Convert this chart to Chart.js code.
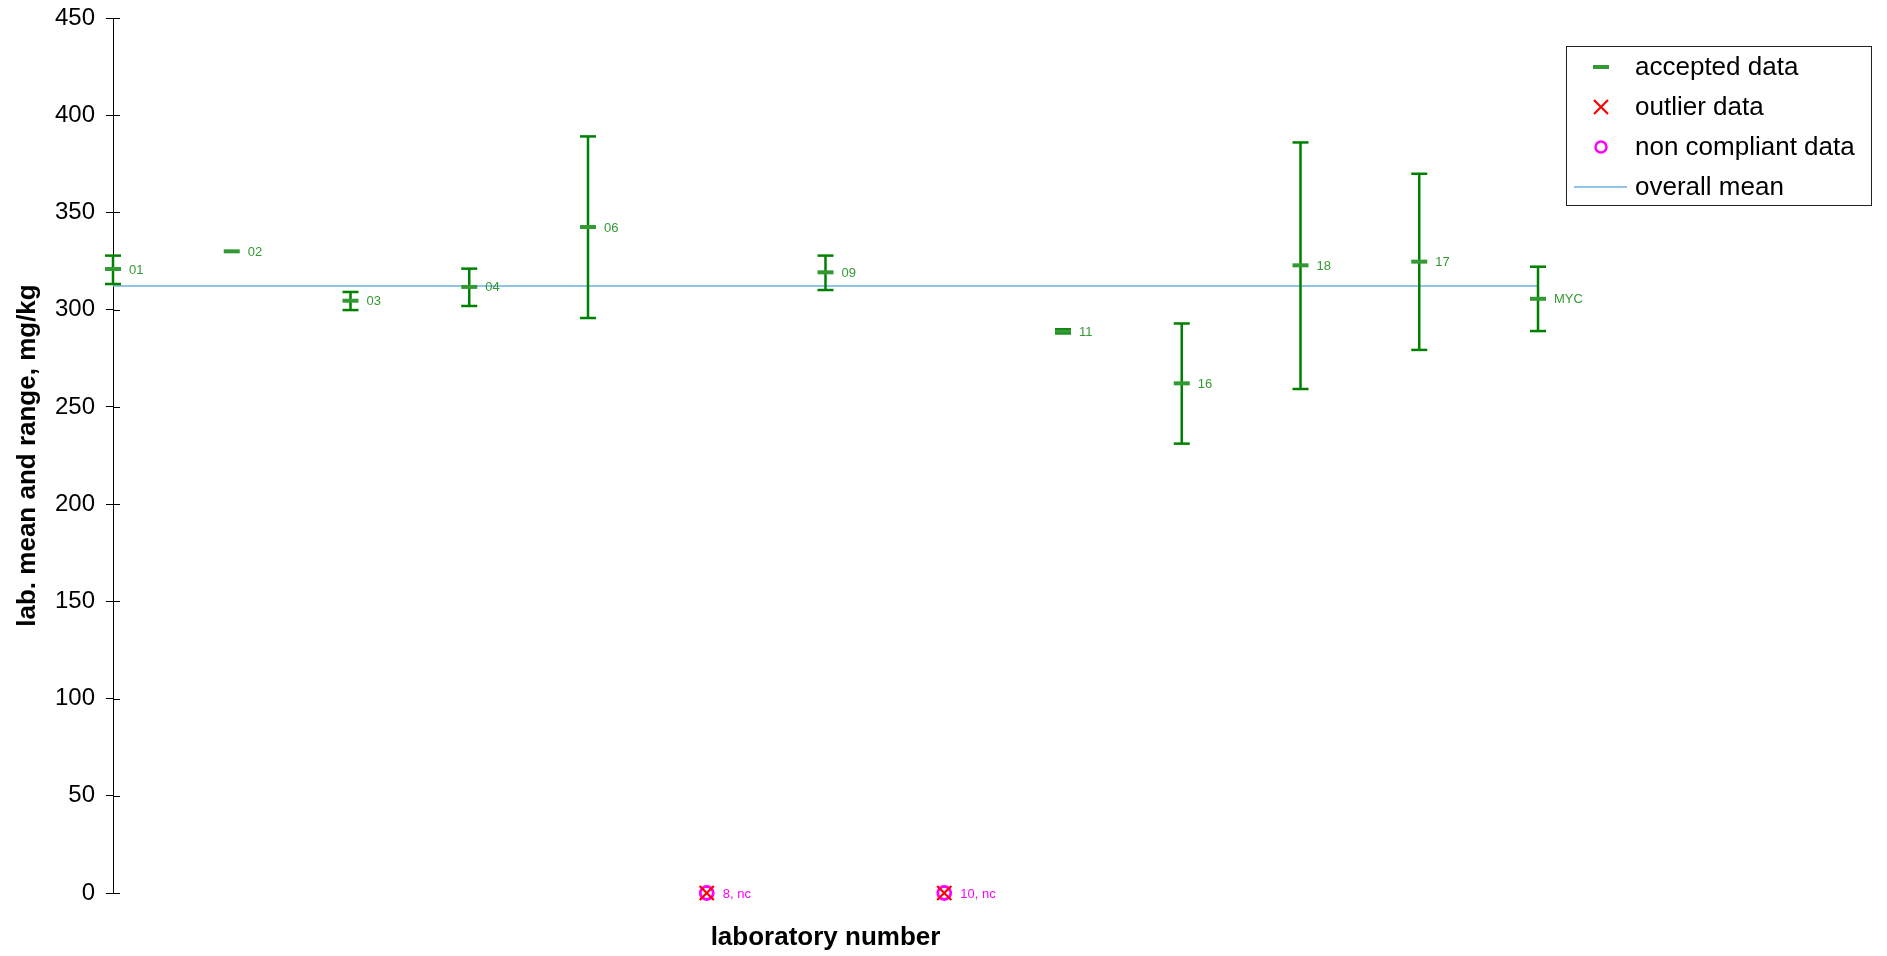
<!DOCTYPE html>
<html>
<head>
<meta charset="utf-8">
<script src="https://cdn.jsdelivr.net/npm/chart.js@4.4.1/dist/chart.umd.min.js"></script>
<style>
  html, body { margin: 0; padding: 0; background: #fff; }
  #wrap { width: 1887px; height: 956px; }
</style>
</head>
<body>
<div id="wrap"><canvas id="labChart"></canvas></div>
<script>
const labs = ["01", "02", "03", "04", "06", "8, nc", "09", "10, nc", "11", "16", "18", "17", "MYC"];
const means = [320.9, 330.0, 304.6, 311.7, 342.5, 0, 319.2, 0, 288.8, 262.1, 322.8, 324.7, 305.6];
const lows = [313.2, null, 299.8, 301.9, 295.7, null, 310.1, null, 287.8, 231.1, 259.2, 279.3, 289.0];
const highs = [327.8, null, 309.1, 321.1, 389.1, null, 327.8, null, 289.9, 292.9, 386.0, 369.9, 322.1];
const nonCompliant = [false, false, false, false, false, true, false, true, false, false, false, false, false];
const overallMean = 312.2;
const yTicks = [0, 50, 100, 150, 200, 250, 300, 350, 400, 450];

const darkGreen = "#008000";
const green = "#339933";
const blue = "#6ab0dc";

Chart.defaults.font.family = "'Liberation Sans', Arial, sans-serif";

// vertical range lines, broken between labs
const rangeData = [];
const capData = [];
labs.forEach((lab, i) => {
  if (lows[i] == null) return;
  rangeData.push({ x: i, y: lows[i] }, { x: i, y: highs[i] }, { x: i, y: null });
  capData.push({ x: i, y: lows[i] }, { x: i, y: highs[i] });
});

const acceptedData = [];
const ncData = [];
labs.forEach((lab, i) => {
  if (nonCompliant[i]) ncData.push({ x: i, y: means[i] });
  else acceptedData.push({ x: i, y: means[i] });
});

const meanData = [{ x: 0, y: overallMean }, { x: labs.length - 1, y: overallMean }];

const pointLabels = {
  id: "pointLabels",
  afterDatasetsDraw(chart) {
    const ctx = chart.ctx;
    const xs = chart.scales.x, ys = chart.scales.y;
    ctx.save();
    ctx.font = "13px 'Liberation Sans', Arial, sans-serif";
    ctx.textBaseline = "middle";
    ctx.textAlign = "left";
    labs.forEach((lab, i) => {
      ctx.fillStyle = nonCompliant[i] ? "#ff00ff" : green;
      ctx.fillText(lab, xs.getPixelForValue(i) + 16, ys.getPixelForValue(means[i]) + 1);
    });
    // inner half of the y ticks
    ctx.strokeStyle = "#000";
    ctx.lineWidth = 1;
    const left = chart.chartArea.left;
    yTicks.forEach(v => {
      const y = Math.round(ys.getPixelForValue(v)) + 0.5;
      ctx.beginPath();
      ctx.moveTo(left, y);
      ctx.lineTo(left + 7, y);
      ctx.stroke();
    });
    ctx.restore();
  }
};

const boxLegend = {
  id: "boxLegend",
  afterDraw(chart) {
    const ctx = chart.ctx;
    const bx = 1566, by = 46, bw = 305, bh = 159;
    ctx.save();
    ctx.fillStyle = "#fff";
    ctx.fillRect(bx, by, bw, bh);
    ctx.strokeStyle = "#222";
    ctx.lineWidth = 1;
    ctx.strokeRect(bx + 0.5, by + 0.5, bw, bh);
    const sx = 1601, tx = 1635;
    const rows = [67, 107, 147, 187];
    // accepted
    ctx.strokeStyle = green;
    ctx.lineWidth = 4;
    ctx.beginPath(); ctx.moveTo(sx - 8, rows[0]); ctx.lineTo(sx + 8, rows[0]); ctx.stroke();
    // outlier
    ctx.strokeStyle = "#ff0000";
    ctx.lineWidth = 2.2;
    ctx.beginPath();
    ctx.moveTo(sx - 7, rows[1] - 7); ctx.lineTo(sx + 7, rows[1] + 7);
    ctx.moveTo(sx + 7, rows[1] - 7); ctx.lineTo(sx - 7, rows[1] + 7);
    ctx.stroke();
    // non compliant
    ctx.strokeStyle = "#ff00ff";
    ctx.lineWidth = 2.5;
    ctx.beginPath(); ctx.arc(sx, rows[2], 5.5, 0, Math.PI * 2); ctx.stroke();
    // overall mean
    ctx.strokeStyle = blue;
    ctx.lineWidth = 1.5;
    ctx.beginPath(); ctx.moveTo(1574, rows[3]); ctx.lineTo(1627, rows[3]); ctx.stroke();
    ctx.fillStyle = "#000";
    ctx.font = "26px 'Liberation Sans', Arial, sans-serif";
    ctx.textBaseline = "middle";
    ["accepted data", "outlier data", "non compliant data", "overall mean"].forEach((t, i) => {
      ctx.fillText(t, tx, rows[i] + 1);
    });
    ctx.restore();
  }
};

const labChart = new Chart(document.getElementById("labChart").getContext("2d"), {
  type: "scatter",
  data: {
    datasets: [
      {
        label: "outlier data",
        data: ncData,
        pointStyle: "crossRot",
        pointRadius: 10,
        borderColor: "#ff0000",
        backgroundColor: "#ff0000",
        pointBorderWidth: 2.2,
        clip: false,
      },
      {
        label: "non compliant data",
        data: ncData,
        pointStyle: "circle",
        pointRadius: 6.5,
        borderColor: "#ff00ff",
        backgroundColor: "rgba(0,0,0,0)",
        pointBorderWidth: 2.8,
        clip: false,
      },
      {
        label: "accepted data",
        data: acceptedData,
        pointStyle: "line",
        pointRadius: 8,
        borderColor: green,
        pointBorderWidth: 4,
        clip: false,
      },
      {
        label: "caps",
        data: capData,
        pointStyle: "line",
        pointRadius: 8,
        borderColor: darkGreen,
        pointBorderWidth: 2.5,
        clip: false,
      },
      {
        label: "range",
        data: rangeData,
        showLine: true,
        spanGaps: false,
        borderColor: darkGreen,
        borderWidth: 2.5,
        pointRadius: 0,
        clip: false,
      },
      {
        label: "overall mean",
        data: meanData,
        showLine: true,
        borderColor: blue,
        borderWidth: 1.5,
        pointRadius: 0,
        clip: false,
      },
    ],
  },
  options: {
    responsive: true,
    maintainAspectRatio: false,
    animation: false,
    events: [],
    layout: {
      padding: { left: 0, top: 18, right: 349, bottom: 0 },
    },
    plugins: {
      legend: { display: false },
      tooltip: { enabled: false },
    },
    scales: {
      x: {
        type: "linear",
        min: 0,
        max: labs.length - 1,
        ticks: { display: false },
        grid: { display: false },
        border: { display: false },
        title: {
          display: true,
          text: "laboratory number",
          color: "#000",
          font: { size: 26, weight: "bold" },
          padding: { top: 0, bottom: 3 },
        },
        afterFit(scale) {
          scale.height = 63;
        },
      },
      y: {
        min: 0,
        max: 450,
        ticks: {
          stepSize: 50,
          color: "#000",
          padding: 11,
          font: { size: 24 },
        },
        grid: {
          drawOnChartArea: false,
          drawTicks: true,
          tickLength: 7,
          color: "#000",
        },
        border: { display: true, color: "#000", width: 1 },
        title: {
          display: true,
          text: "lab. mean and range, mg/kg",
          color: "#000",
          font: { size: 26, weight: "bold" },
          padding: { top: 12, bottom: 0 },
        },
        afterFit(scale) {
          scale.width = 113;
          scale.paddingTop = 0;
          scale.paddingBottom = 0;
        },
      },
    },
  },
  plugins: [pointLabels, boxLegend],
});
</script>
</body>
</html>
